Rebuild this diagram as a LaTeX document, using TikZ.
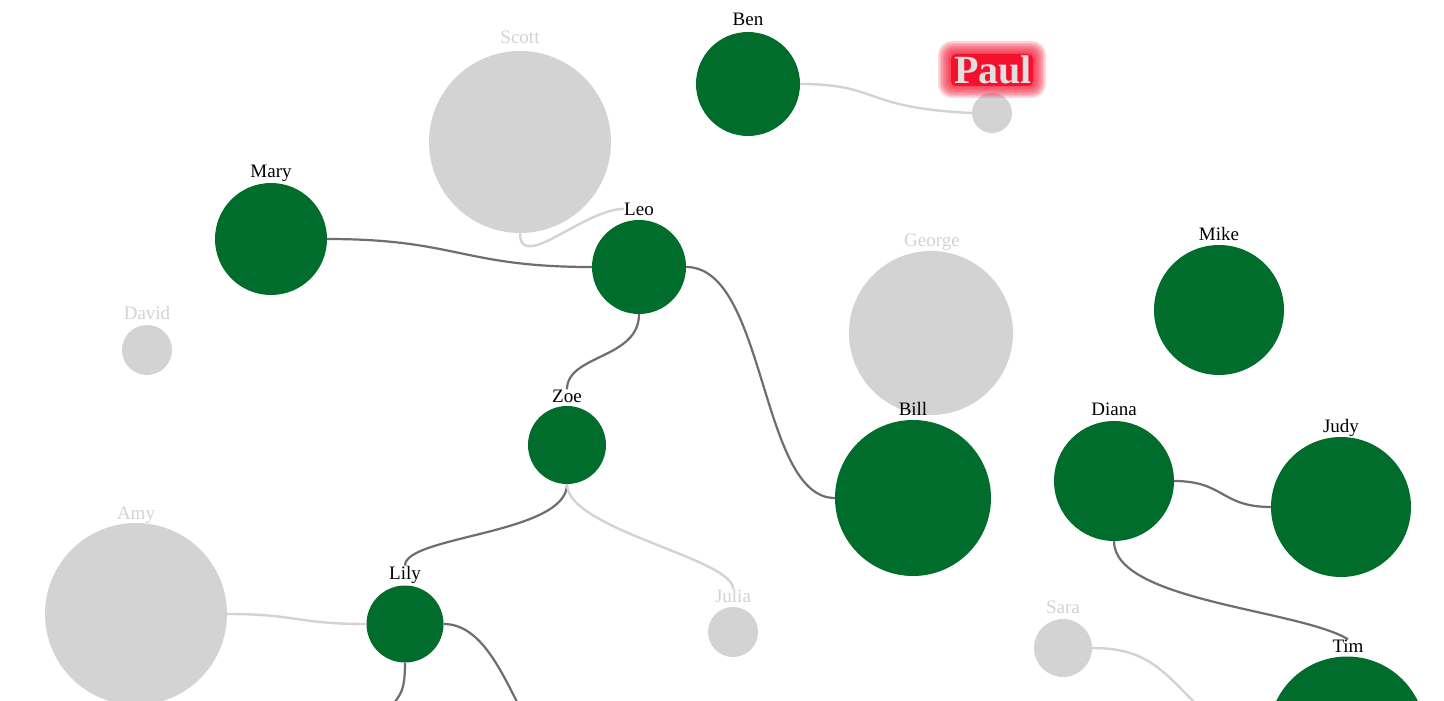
\documentclass[tikz,border=0pt]{standalone}
\usepackage{fontspec}
\setmainfont{Liberation Serif}
\definecolor{dgreen}{HTML}{006D2C}
\definecolor{lgrey}{HTML}{D3D3D3}
\definecolor{edark}{HTML}{6E6E6E}
\definecolor{glowred}{HTML}{F5102E}
\pgfdeclarelayer{links}
\pgfsetlayers{links,main}
\begin{document}
\begin{tikzpicture}[x=1pt,y=-1pt,
  gn/.style={circle,fill=dgreen,inner sep=0pt,minimum size=#1},
  gy/.style={circle,fill=lgrey,inner sep=0pt,minimum size=#1},
  lbl/.style={font=\fontsize{19}{20}\selectfont,inner sep=0pt,anchor=base,text=black},
  glbl/.style={lbl,text=lgrey},
  dlink/.style={draw=edark,line width=2.2pt},
  llink/.style={draw=lgrey,line width=2.4pt}]
\useasboundingbox (0,0) rectangle (1444,701);
% circles
\path
  node[gn=104pt] (ben) at (748,84) {}
  node[gy=40pt] (paul) at (992,113) {}
  node[gy=182pt] (scott) at (520,142) {}
  node[gn=112pt] (mary) at (271,239) {}
  node[gn=94pt] (leo) at (639,267) {}
  node[gy=50pt] (david) at (147,350) {}
  node[gy=164pt] (george) at (931,333) {}
  node[gn=130pt] (mike) at (1219,310) {}
  node[gn=78pt] (zoe) at (567,445) {}
  node[gn=156pt] (bill) at (913,498) {}
  node[gn=120pt] (diana) at (1114,481) {}
  node[gn=140pt] (judy) at (1341,507) {}
  node[gy=182pt] (amy) at (136,614) {}
  node[gn=77pt] (lily) at (405,624) {}
  node[gy=50pt] (julia) at (733,632) {}
  node[gy=58pt] (sara) at (1063,648) {}
  node[gn=157pt] (tim) at (1347,735) {};
% labels
\node[lbl] (benlbl) at (748,26) {Ben};
\node[glbl] (scottlbl) at (520,44) {Scott};
\node[lbl] (marylbl) at (271,177) {Mary};
\node[lbl] (leolbl) at (639,215) {Leo};
\node[glbl] (georgelbl) at (932,246) {George};
\node[lbl] (mikelbl) at (1219,240) {Mike};
\node[glbl] (davidlbl) at (147,319) {David};
\node[lbl] (zoelbl) at (567,402) {Zoe};
\node[lbl] (billlbl) at (913,415) {Bill};
\node[lbl] (dianalbl) at (1114,415) {Diana};
\node[lbl] (judylbl) at (1341,432) {Judy};
\node[glbl] (amylbl) at (136,519) {Amy};
\node[lbl] (lilylbl) at (405,579) {Lily};
\node[glbl] (julialbl) at (733,602) {Julia};
\node[glbl] (saralbl) at (1063,613) {Sara};
\node[lbl] (timlbl) at (1348,652) {Tim};
% free ends
\coordinate (lilyout1) at (392,706);
\coordinate (lilyout2) at (519,706);
\coordinate (saraout) at (1198,706);
% links behind circles
\begin{pgfonlayer}{links}
\fill[white] (0,0) rectangle (1444,701);
\path[llink] (ben.east) .. controls +(80,0) and +(-110,-5) .. (paul.west);
\path[dlink] (mary.east) .. controls +(130,0) and +(-130,0) .. (leo.west);
\path[llink] (scott.south) .. controls +(0,40) and +(-40,0) .. (leolbl.west);
\path[dlink] (leo.east) .. controls +(80,0) and +(-75,0) .. (bill.west);
\path[dlink] (leo.south) .. controls +(0,45) and +(0,-35) .. (zoelbl.north);
\path[dlink] (zoe.south) .. controls +(0,50) and +(0,-30) .. (lilylbl.north);
\path[llink] (zoe.south) .. controls +(0,45) and +(0,-30) .. (julialbl.north);
\path[llink] (amy.east) .. controls +(70,0) and +(-70,0) .. (lily.west);
\path[dlink] (lily.south) .. controls +(0,30) and +(8,-12) .. (lilyout1);
\path[dlink] (lily.east) .. controls +(35,0) and +(-20,-40) .. (lilyout2);
\path[dlink] (diana.east) .. controls +(50,0) and +(-50,0) .. (judy.west);
\path[dlink] (diana.south) .. controls +(0,60) and +(-50,-30) .. (timlbl.north);
\path[llink] (sara.east) .. controls +(55,0) and +(-35,-35) .. (saraout);
\end{pgfonlayer}
% Paul glow label
\foreach \i in {0,...,7}
  \fill[glowred,opacity=0.16,rounded corners={14pt-\i pt}] ({938+\i*1.6},{41+\i*1.6}) rectangle ({1046-\i*1.6},{98-\i*1.6});
\fill[glowred,rounded corners=5pt] (951,54) rectangle (1033,86);
\node[font=\fontsize{40}{42}\selectfont\bfseries,inner sep=0pt,anchor=base,text=lgrey!70!white] (paullbl) at (993,84) {Paul};
\end{tikzpicture}
\end{document}
